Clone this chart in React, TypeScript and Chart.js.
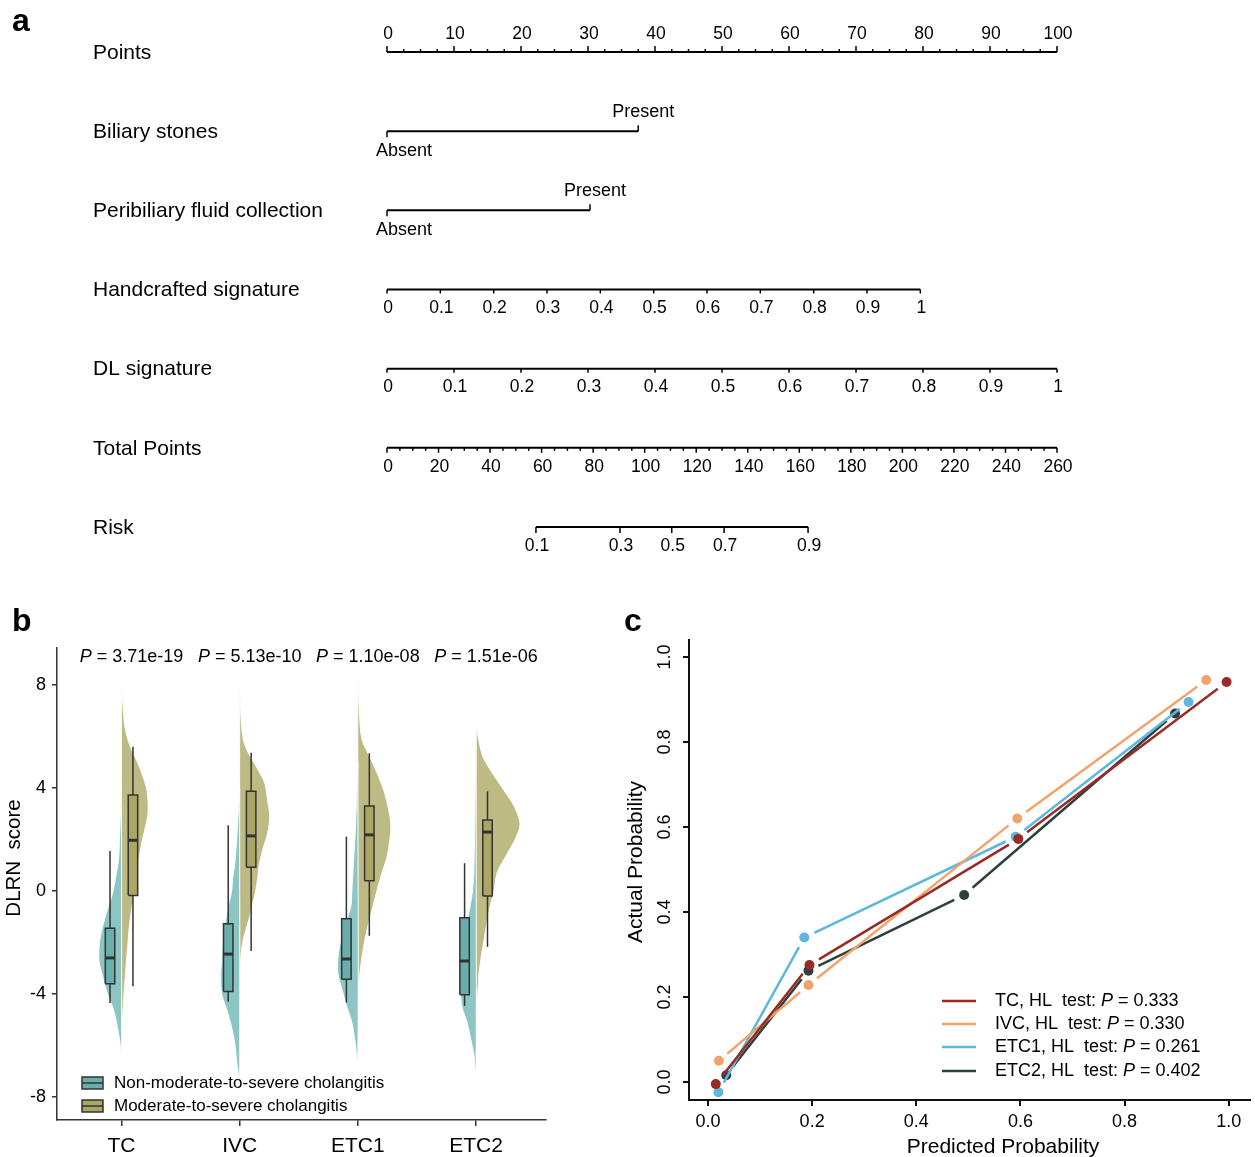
import React, { useEffect, useRef } from "react";
import { Chart, registerables } from "chart.js";

Chart.register(...registerables);

const FONT = "'Liberation Sans', Arial, Helvetica, sans-serif";
Chart.defaults.font.family = FONT;
Chart.defaults.color = "#000";

// ================= Panel a : nomogram =================
const NOMO_ROW_LABELS = [
  "Points",
  "Biliary stones",
  "Peribiliary fluid collection",
  "Handcrafted signature",
  "DL signature",
  "Total Points",
  "Risk",
];
const POINTS_TICKS = [0, 10, 20, 30, 40, 50, 60, 70, 80, 90, 100];
const POINTS_MINOR_STEP = 2.5;
const BILIARY_LEVELS = ["Absent", "Present"];
const BILIARY_POINTS = [0, 37.5];
const FLUID_LEVELS = ["Absent", "Present"];
const FLUID_POINTS = [0, 30.3];
const SIGNATURE_TICKS = [0, 0.1, 0.2, 0.3, 0.4, 0.5, 0.6, 0.7, 0.8, 0.9, 1];
const HANDCRAFTED_POINTS_AT_1 = 79.6;
const DL_POINTS_AT_1 = 100;
const TOTAL_TICKS = [0, 20, 40, 60, 80, 100, 120, 140, 160, 180, 200, 220, 240, 260];
const TOTAL_MINOR_STEP = 5;
const TOTAL_POINTS_MAX = 260;
const RISK_TICKS = [0.1, 0.3, 0.5, 0.7, 0.9];
const RISK_AT_TOTAL = [57.8, 90.4, 110.5, 130.8, 163.4];

// ================= Panel b : split violins =================
const B_CATEGORIES = ["TC", "IVC", "ETC1", "ETC2"];
const B_GROUPS = ["Non-moderate-to-severe cholangitis", "Moderate-to-severe cholangitis"];
const B_PVALUES = ["3.71e-19", "5.13e-10", "1.10e-08", "1.51e-06"];
const B_YTICKS = [-8, -4, 0, 4, 8];

// density profiles [score, relative density]
const DENS_TC_NON: [number, number][] = [[4, 0], [3, 1], [2, 2], [1.2, 3], [0.5, 6], [-0.1, 9], [-0.7, 14], [-1.4, 19], [-2, 22], [-2.7, 22.5], [-3.3, 19], [-4, 14], [-4.6, 8], [-5.3, 4], [-5.9, 1.5], [-6.5, 0]];
const DENS_TC_MOD: [number, number][] = [[8.5, 0], [7.5, 1], [6.5, 3], [6, 5.5], [5.5, 10], [5, 16], [4.5, 21], [4, 25], [3.5, 26.5], [3, 26.5], [2.5, 24], [2, 21], [1.5, 18.5], [1, 16], [0.5, 14.5], [0, 13], [-0.5, 11], [-1, 9], [-1.5, 7.5], [-2, 6.5], [-2.7, 5], [-3.5, 3.5], [-4, 2.5], [-5, 1], [-6, 0]];
const DENS_IVC_NON: [number, number][] = [[4, 0], [3, 1.5], [2, 3], [1, 5], [0.5, 7], [0, 8], [-0.7, 12], [-1.4, 15], [-2, 17], [-2.7, 18], [-3.3, 19], [-4, 18], [-4.6, 13], [-5.3, 8], [-5.9, 5], [-6.6, 3], [-7.2, 1], [-7.8, 0]];
const DENS_IVC_MOD: [number, number][] = [[8.5, 0], [7, 1], [6, 3], [5.5, 7], [4.8, 17], [4.2, 25], [3.5, 28], [2.9, 30], [2.25, 28], [1.6, 23], [0.9, 19], [0.5, 18], [0, 16], [-0.5, 13], [-1, 10], [-1.4, 7], [-2, 3], [-2.7, 1], [-3.5, 0]];
const DENS_ETC1_NON: [number, number][] = [[5, 0], [3.3, 1.5], [2, 3], [0.7, 5], [0, 6], [-0.6, 7], [-1.2, 12], [-1.9, 17], [-2.6, 20], [-3.2, 20], [-3.8, 16], [-4.5, 11], [-5.1, 6], [-5.8, 3], [-6.6, 0]];
const DENS_ETC1_MOD: [number, number][] = [[8.3, 0], [7, 1.5], [5.9, 4], [5.2, 12], [4.6, 19], [3.9, 26], [3.3, 30], [2.6, 33], [2, 32], [1.3, 29], [0.7, 24], [0, 19], [-0.6, 15], [-1.2, 11], [-1.9, 7], [-2.6, 4], [-3.2, 2], [-4, 0]];
const DENS_ETC2_NON: [number, number][] = [[6.5, 0], [4, 0.8], [2, 1.5], [0.7, 2.3], [0, 3.5], [-0.6, 6], [-1.2, 9], [-1.9, 12], [-2.6, 15], [-3.2, 16], [-3.8, 16], [-4.5, 14], [-5.1, 9], [-5.8, 5], [-6.4, 2], [-7.2, 0]];
const DENS_ETC2_MOD: [number, number][] = [[6.8, 0], [6, 2], [5.2, 7], [4.6, 16], [3.9, 28], [3.3, 38], [2.6, 44], [2, 39], [1.3, 29], [0.7, 21], [0, 18], [-0.6, 14], [-1.2, 11], [-1.9, 8], [-2.6, 5], [-3.2, 3], [-3.8, 2], [-4.5, 0]];
const DENS_NON = [DENS_TC_NON, DENS_IVC_NON, DENS_ETC1_NON, DENS_ETC2_NON];
const DENS_MOD = [DENS_TC_MOD, DENS_IVC_MOD, DENS_ETC1_MOD, DENS_ETC2_MOD];

// box stats [min, q1, median, q3, max]
const BOX_NON = [
  [-4.35, -3.6, -2.6, -1.45, 1.55],
  [-4.3, -3.9, -2.45, -1.27, 2.55],
  [-4.33, -3.43, -2.64, -1.08, 2.11],
  [-4.46, -4.03, -2.72, -1.04, 1.08],
];
const BOX_MOD = [
  [-3.7, -0.17, 1.97, 3.73, 5.6],
  [-2.33, 0.92, 2.14, 3.87, 5.37],
  [-1.74, 0.4, 2.18, 3.3, 5.35],
  [-2.17, -0.19, 2.29, 2.76, 3.87],
];

// ================= Panel c : calibration =================
const C_SERIES = ["TC", "IVC", "ETC1", "ETC2"];
const C_HL_P = ["0.333", "0.330", "0.261", "0.402"];
const C_PRED_TC = [0.015, 0.195, 0.596, 0.996];
const C_ACT_TC = [-0.005, 0.275, 0.572, 0.941];
const C_PRED_IVC = [0.021, 0.193, 0.594, 0.957];
const C_ACT_IVC = [0.05, 0.228, 0.62, 0.946];
const C_PRED_ETC1 = [0.02, 0.185, 0.591, 0.923];
const C_ACT_ETC1 = [-0.024, 0.34, 0.577, 0.894];
const C_PRED_ETC2 = [0.035, 0.193, 0.492, 0.897];
const C_ACT_ETC2 = [0.016, 0.262, 0.44, 0.867];
const C_PRED = [C_PRED_TC, C_PRED_IVC, C_PRED_ETC1, C_PRED_ETC2];
const C_ACT = [C_ACT_TC, C_ACT_IVC, C_ACT_ETC1, C_ACT_ETC2];
const C_TICKS = [0, 0.2, 0.4, 0.6, 0.8, 1.0];

// ---------- styles ----------
const TEAL_VIOLIN = "#8cc5c3";
const OLIVE_VIOLIN = "#bdba84";
const TEAL_BOX = "#68aeac";
const OLIVE_BOX = "#aca664";
const BOX_LINE = "#333333";
const C_COLORS = ["#992b24", "#f1a36c", "#5db7de", "#2e3f41"];

function drawPText(ctx: CanvasRenderingContext2D, prefix: string, rest: string, x: number, y: number, size: number, align: "center" | "left") {
  const normal = `${size}px ${FONT}`;
  const italic = `italic ${size}px ${FONT}`;
  ctx.font = normal;
  const wPre = ctx.measureText(prefix).width;
  const wRest = ctx.measureText(rest).width;
  ctx.font = italic;
  const wP = ctx.measureText("P").width;
  const total = wPre + wP + wRest;
  const x0 = align === "center" ? x - total / 2 : x;
  ctx.textAlign = "left";
  ctx.font = normal;
  ctx.fillText(prefix, x0, y);
  ctx.font = italic;
  ctx.fillText("P", x0 + wPre, y);
  ctx.font = normal;
  ctx.fillText(rest, x0 + wPre + wP, y);
}

// ---------- Panel a ----------
type NTick = { pts: number; len: number; label?: string; dy?: number; dx?: number; align?: CanvasTextAlign; size?: number };

function nomoTicks(): NTick[][] {
  const perTotal = 100 / TOTAL_POINTS_MAX;
  const rows: NTick[][] = [];
  const p: NTick[] = [];
  for (let v = 0; v <= 100 + 1e-6; v += POINTS_MINOR_STEP) {
    const major = POINTS_TICKS.some((t) => Math.abs(t - v) < 1e-6);
    p.push({ pts: v, len: major ? -6 : -3, label: major ? String(v) : undefined, dy: -18 });
  }
  rows.push(p);
  const binary = (pts: number[], levels: string[]): NTick[] => [
    { pts: pts[0], len: 6, label: levels[0], dy: 20, dx: -11, align: "left", size: 18 },
    { pts: pts[1], len: -6, label: levels[1], dy: -19, dx: 5, align: "center", size: 18 },
  ];
  rows.push(binary(BILIARY_POINTS, BILIARY_LEVELS));
  rows.push(binary(FLUID_POINTS, FLUID_LEVELS));
  rows.push(SIGNATURE_TICKS.map((v) => ({ pts: v * HANDCRAFTED_POINTS_AT_1, len: 4, label: String(v), dy: 19 })));
  rows.push(SIGNATURE_TICKS.map((v) => ({ pts: v * DL_POINTS_AT_1, len: 4, label: String(v), dy: 19 })));
  const t: NTick[] = [];
  for (let v = 0; v <= TOTAL_POINTS_MAX + 1e-6; v += TOTAL_MINOR_STEP) {
    const major = TOTAL_TICKS.includes(v);
    t.push({ pts: v * perTotal, len: major ? 5 : 3, label: major ? String(v) : undefined, dy: 19 });
  }
  rows.push(t);
  rows.push(RISK_TICKS.map((r, i) => ({ pts: RISK_AT_TOTAL[i] * perTotal, len: 6, label: String(r), dy: 19 })));
  return rows;
}

const nomoPlugin = {
  id: "nomo",
  afterDatasetsDraw(chart: any) {
    const { ctx } = chart;
    const x = chart.scales.x;
    const y = chart.scales.y;
    const rows = nomoTicks();
    ctx.save();
    ctx.strokeStyle = "#000";
    ctx.fillStyle = "#000";
    ctx.lineWidth = 1.5;
    ctx.textBaseline = "middle";
    rows.forEach((ticks, r) => {
      const yp = y.getPixelForValue(r);
      ticks.forEach((tk) => {
        const xp = x.getPixelForValue(tk.pts);
        ctx.beginPath();
        ctx.moveTo(xp, yp);
        ctx.lineTo(xp, yp + tk.len);
        ctx.stroke();
        if (tk.label) {
          ctx.font = `${tk.size || 17.5}px ${FONT}`;
          ctx.textAlign = tk.align || "center";
          ctx.fillText(tk.label, xp + (tk.dx || 0) + (tk.align ? 0 : 1), yp + (tk.dy || 0));
        }
      });
    });
    ctx.font = `21px ${FONT}`;
    ctx.textAlign = "left";
    NOMO_ROW_LABELS.forEach((lab, r) => ctx.fillText(lab, 93, y.getPixelForValue(r) + 1));
    ctx.font = `bold 32px ${FONT}`;
    ctx.fillText("a", 12, 22);
    ctx.restore();
  },
};

function makeNomogram(): any {
  const perTotal = 100 / TOTAL_POINTS_MAX;
  const spans: [number, number][] = [
    [POINTS_TICKS[0], POINTS_TICKS[POINTS_TICKS.length - 1]],
    [BILIARY_POINTS[0], BILIARY_POINTS[1]],
    [FLUID_POINTS[0], FLUID_POINTS[1]],
    [0, SIGNATURE_TICKS[SIGNATURE_TICKS.length - 1] * HANDCRAFTED_POINTS_AT_1],
    [0, SIGNATURE_TICKS[SIGNATURE_TICKS.length - 1] * DL_POINTS_AT_1],
    [0, TOTAL_TICKS[TOTAL_TICKS.length - 1] * perTotal],
    [RISK_AT_TOTAL[0] * perTotal, RISK_AT_TOTAL[RISK_AT_TOTAL.length - 1] * perTotal],
  ];
  return {
    type: "scatter",
    data: {
      datasets: spans.map((s, r) => ({
        label: NOMO_ROW_LABELS[r],
        data: [
          { x: s[0], y: r },
          { x: s[1], y: r },
        ],
        showLine: true,
        borderColor: "#000",
        borderWidth: 2,
        pointRadius: 0,
        fill: false,
        clip: false,
      })),
    },
    options: {
      responsive: false,
      animation: false,
      devicePixelRatio: 1,
      layout: { padding: { left: 387, right: 198, top: 12.4, bottom: 33.4 } },
      scales: {
        x: { type: "linear", min: 0, max: 100, display: false },
        y: { type: "linear", min: -0.5, max: 6.5, reverse: true, display: false },
      },
      plugins: { legend: { display: false }, tooltip: { enabled: false } },
    },
    plugins: [nomoPlugin],
  };
}

// ---------- Panel b ----------
const VIOLIN_SCALE = 1 / 118.2;
const BOX_OFFSET = 0.097;
const BOX_HALF = 0.04;

function violinPolygon(center: number, side: number, profile: [number, number][]) {
  const pts = profile.map(([yv, d]) => ({ x: center + side * d * VIOLIN_SCALE, y: yv }));
  pts.push({ ...pts[0] });
  return pts;
}

const panelBPlugin = {
  id: "panelB",
  afterDatasetsDraw(chart: any) {
    const { ctx, chartArea } = chart;
    const x = chart.scales.x;
    ctx.save();
    ctx.fillStyle = "#000";
    ctx.textBaseline = "middle";
    B_PVALUES.forEach((pv, i) => {
      drawPText(ctx, "", ` = ${pv}`, x.getPixelForValue(i + 1) + 10, chartArea.top + 9, 18, "center");
    });
    // legend
    const colors = [TEAL_BOX, OLIVE_BOX];
    const rowsY = [chartArea.bottom - 37, chartArea.bottom - 14];
    B_GROUPS.forEach((g, i) => {
      const gx = chartArea.left + 25;
      const gy = rowsY[i];
      ctx.fillStyle = colors[i];
      ctx.fillRect(gx, gy - 6, 21, 12);
      ctx.strokeStyle = BOX_LINE;
      ctx.lineWidth = 1.5;
      ctx.strokeRect(gx, gy - 6, 21, 12);
      ctx.beginPath();
      ctx.moveTo(gx, gy);
      ctx.lineTo(gx + 21, gy);
      ctx.stroke();
      ctx.fillStyle = "#000";
      ctx.font = `17px ${FONT}`;
      ctx.textAlign = "left";
      ctx.fillText(g, gx + 32, gy);
    });
    // titles
    ctx.save();
    ctx.translate(14, 258);
    ctx.rotate(-Math.PI / 2);
    ctx.font = `20.5px ${FONT}`;
    ctx.textAlign = "center";
    ctx.fillText("DLRN  score", 0, 0);
    ctx.restore();
    ctx.font = `bold 32px ${FONT}`;
    ctx.textAlign = "left";
    ctx.fillText("b", 12, 22);
    ctx.restore();
  },
};

function makeViolin(): any {
  const datasets: any[] = [];
  B_CATEGORIES.forEach((cat, i) => {
    const c = i + 1;
    datasets.push({
      label: `${cat} non violin`,
      data: violinPolygon(c, -1, DENS_NON[i]),
      showLine: true,
      fill: "shape",
      backgroundColor: TEAL_VIOLIN,
      borderColor: "rgba(255,255,255,0.9)",
      borderWidth: 1,
      pointRadius: 0,
      tension: 0.3,
      order: 4,
    });
    datasets.push({
      label: `${cat} mod violin`,
      data: violinPolygon(c, 1, DENS_MOD[i]),
      showLine: true,
      fill: "shape",
      backgroundColor: OLIVE_VIOLIN,
      borderColor: "rgba(255,255,255,0.9)",
      borderWidth: 1,
      pointRadius: 0,
      tension: 0.3,
      order: 4,
    });
    [
      { stats: BOX_NON[i], xc: c - BOX_OFFSET, col: TEAL_BOX },
      { stats: BOX_MOD[i], xc: c + BOX_OFFSET, col: OLIVE_BOX },
    ].forEach(({ stats, xc, col }) => {
      const [mn, q1, med, q3, mx] = stats;
      datasets.push({
        data: [
          { x: xc, y: mn },
          { x: xc, y: mx },
        ],
        showLine: true,
        borderColor: BOX_LINE,
        borderWidth: 1.5,
        pointRadius: 0,
        order: 3,
      });
      datasets.push({
        data: [
          { x: xc - BOX_HALF, y: q1 },
          { x: xc + BOX_HALF, y: q1 },
          { x: xc + BOX_HALF, y: q3 },
          { x: xc - BOX_HALF, y: q3 },
          { x: xc - BOX_HALF, y: q1 },
        ],
        showLine: true,
        fill: "shape",
        backgroundColor: col,
        borderColor: BOX_LINE,
        borderWidth: 1.5,
        pointRadius: 0,
        order: 2,
      });
      datasets.push({
        data: [
          { x: xc - BOX_HALF, y: med },
          { x: xc + BOX_HALF, y: med },
        ],
        showLine: true,
        borderColor: BOX_LINE,
        borderWidth: 3,
        pointRadius: 0,
        order: 1,
      });
    });
  });
  return {
    type: "scatter",
    data: { datasets },
    options: {
      responsive: false,
      animation: false,
      devicePixelRatio: 1,
      layout: { padding: { left: 0, right: 14, top: 48, bottom: 0 } },
      scales: {
        x: {
          type: "linear",
          min: 0.4543,
          max: 4.592,
          afterBuildTicks: (s: any) => {
            s.ticks = B_CATEGORIES.map((_, i) => ({ value: i + 1 }));
          },
          afterFit: (s: any) => {
            s.height = 37;
          },
          ticks: {
            callback: (v: any) => B_CATEGORIES[Math.round(Number(v)) - 1] ?? "",
            font: { size: 21 },
            color: "#000",
            padding: 8,
            autoSkip: false,
            maxRotation: 0,
          },
          grid: { display: true, drawOnChartArea: false, drawTicks: true, tickLength: 6, color: BOX_LINE, lineWidth: 1.5 },
          border: { display: true, color: BOX_LINE, width: 1.5 },
        },
        y: {
          type: "linear",
          min: -8.893,
          max: 9.437,
          afterBuildTicks: (s: any) => {
            s.ticks = B_YTICKS.map((v) => ({ value: v }));
          },
          afterFit: (s: any) => {
            s.width = 57;
          },
          ticks: { font: { size: 18 }, color: "#000", padding: 6 },
          grid: { display: true, drawOnChartArea: false, drawTicks: true, tickLength: 5, color: BOX_LINE, lineWidth: 1.5 },
          border: { display: true, color: BOX_LINE, width: 1.5 },
        },
      },
      plugins: { legend: { display: false }, tooltip: { enabled: false } },
    },
    plugins: [panelBPlugin],
  };
}

// ---------- Panel c ----------
const LINE_GAP = 11;

const panelCPlugin = {
  id: "panelC",
  afterDatasetsDraw(chart: any) {
    const { ctx, chartArea } = chart;
    const y = chart.scales.y;
    ctx.save();
    ctx.fillStyle = "#000";
    ctx.textBaseline = "middle";
    // rotated y tick labels
    C_TICKS.forEach((v) => {
      ctx.save();
      ctx.translate(chartArea.left - 24, y.getPixelForValue(v));
      ctx.rotate(-Math.PI / 2);
      ctx.font = `18px ${FONT}`;
      ctx.textAlign = "center";
      ctx.fillText(v.toFixed(1), 0, 0);
      ctx.restore();
    });
    // titles
    ctx.save();
    ctx.translate(36, 262);
    ctx.rotate(-Math.PI / 2);
    ctx.font = `21px ${FONT}`;
    ctx.textAlign = "center";
    ctx.fillText("Actual Probability", 0, 0);
    ctx.restore();
    ctx.font = `21px ${FONT}`;
    ctx.textAlign = "center";
    ctx.fillText("Predicted Probability", 403, 547);
    // legend
    const rows = [99, 76, 53, 29];
    C_SERIES.forEach((s, i) => {
      const ly = chartArea.bottom - rows[i];
      ctx.strokeStyle = C_COLORS[i];
      ctx.lineWidth = 2.5;
      ctx.beginPath();
      ctx.moveTo(chartArea.right - 308, ly);
      ctx.lineTo(chartArea.right - 274, ly);
      ctx.stroke();
      ctx.fillStyle = "#000";
      drawPText(ctx, `${s}, HL  test: `, ` = ${C_HL_P[i]}`, chartArea.right - 255, ly, 18, "left");
    });
    ctx.font = `bold 32px ${FONT}`;
    ctx.textAlign = "left";
    ctx.fillText("c", 24, 22);
    ctx.restore();
  },
};

function makeCalibration(): any {
  const datasets = C_SERIES.map((s, i) => ({
    label: s,
    data: C_PRED[i].map((p, k) => ({ x: p, y: C_ACT[i][k] })),
    showLine: true,
    borderColor: C_COLORS[i],
    backgroundColor: C_COLORS[i],
    borderWidth: 2.5,
    pointRadius: 5,
    pointBorderWidth: 0,
    pointBackgroundColor: C_COLORS[i],
    segment: {
      borderDash: (c: any) => {
        const len = Math.hypot(c.p1.x - c.p0.x, c.p1.y - c.p0.y);
        const g = Math.min(LINE_GAP, len / 2 - 1);
        return [0.0001, g, Math.max(len - 2 * g, 0), len + 20];
      },
    },
  }));
  return {
    type: "scatter",
    data: { datasets },
    options: {
      responsive: false,
      animation: false,
      devicePixelRatio: 1,
      layout: { padding: { left: 0, right: 5, top: 40, bottom: 0 } },
      scales: {
        x: {
          type: "linear",
          min: -0.0365,
          max: 1.041,
          afterBuildTicks: (s: any) => {
            s.ticks = C_TICKS.map((v) => ({ value: v }));
          },
          afterFit: (s: any) => {
            s.height = 57;
          },
          ticks: { callback: (v: any) => Number(v).toFixed(1), font: { size: 18 }, color: "#000", padding: 5, maxRotation: 0, autoSkip: false },
          grid: { display: true, drawOnChartArea: false, drawTicks: true, tickLength: 6, color: "#111", lineWidth: 2 },
          border: { display: true, color: "#111", width: 2 },
        },
        y: {
          type: "linear",
          min: -0.0424,
          max: 1.04,
          afterBuildTicks: (s: any) => {
            s.ticks = C_TICKS.map((v) => ({ value: v }));
          },
          afterFit: (s: any) => {
            s.width = 89;
          },
          ticks: { display: false },
          grid: { display: true, drawOnChartArea: false, drawTicks: true, tickLength: 6, color: "#111", lineWidth: 2 },
          border: { display: true, color: "#111", width: 2 },
        },
      },
      plugins: { legend: { display: false }, tooltip: { enabled: false } },
    },
    plugins: [panelCPlugin],
  };
}

// ---------- components ----------
function ChartCanvas(props: { left: number; top: number; width: number; height: number; make: () => any }) {
  const ref = useRef<HTMLCanvasElement>(null);
  useEffect(() => {
    const chart = new Chart(ref.current as HTMLCanvasElement, props.make());
    return () => chart.destroy();
  }, []);
  return (
    <canvas
      ref={ref}
      width={props.width}
      height={props.height}
      style={{ position: "absolute", left: props.left, top: props.top, width: props.width, height: props.height }}
    />
  );
}

export default function App() {
  return (
    <div style={{ position: "absolute", left: 0, top: 0, width: 1255, height: 1157, background: "#fff", overflow: "hidden" }}>
      <ChartCanvas left={0} top={0} width={1255} height={600} make={makeNomogram} />
      <ChartCanvas left={0} top={600} width={560} height={557} make={makeViolin} />
      <ChartCanvas left={600} top={600} width={655} height={557} make={makeCalibration} />
    </div>
  );
}
